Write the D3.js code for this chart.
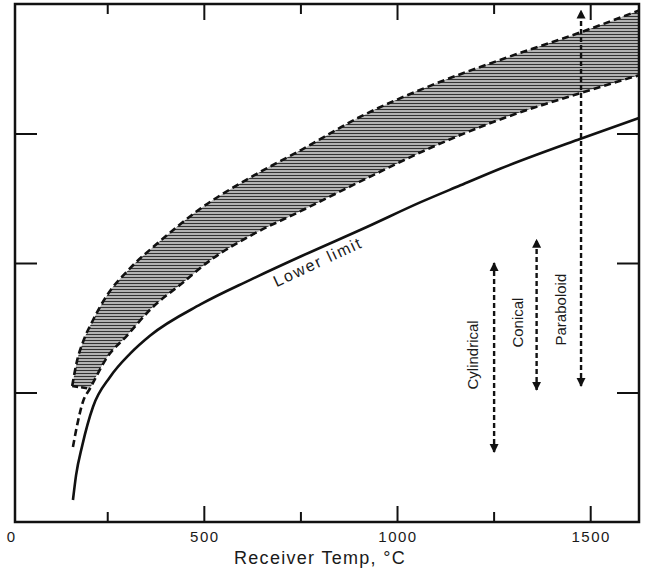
<!DOCTYPE html>
<html>
<head>
<meta charset="utf-8">
<script src="https://cdn.jsdelivr.net/npm/d3@7"></script>
<style>
  body { margin: 0; background: #fff; }
  text { font-family: "Liberation Sans", Arial, sans-serif; fill: #1a1a1a; }
</style>
</head>
<body>
<div id="container"></div>
<script>
/* CONSTANTS AND GLOBALS */
const width = 647,
  height = 570,
  margin = {top: 4, bottom: 48, left: 15, right: 8};

// upper edge of the hatched band (dashed)
const upperTemp = [158, 171, 186, 212, 248, 308, 378, 490, 619, 749, 904, 1086, 1267, 1482, 1625];
const upperVal  = [1.05, 1.25, 1.39, 1.56, 1.75, 1.96, 2.15, 2.42, 2.66, 2.87, 3.13, 3.37, 3.57, 3.79, 3.95];
// lower edge of the hatched band (dashed)
const lowerTemp = [160, 171, 186, 204, 248, 300, 360, 445, 515, 619, 749, 904, 1086, 1267, 1482, 1625];
const lowerVal  = [0.58, 0.75, 0.93, 1.03, 1.27, 1.44, 1.64, 1.85, 2.02, 2.21, 2.40, 2.63, 2.89, 3.11, 3.32, 3.45];
// lower limit (solid)
const limitTemp = [160, 168, 184, 212, 256, 308, 360, 490, 619, 749, 922, 1060, 1163, 1267, 1474, 1625];
const limitVal  = [0.17, 0.36, 0.59, 0.89, 1.12, 1.30, 1.44, 1.68, 1.87, 2.05, 2.28, 2.47, 2.60, 2.73, 2.96, 3.12];

// receiver type ranges (vertical arrows)
const receivers    = ["Cylindrical", "Conical", "Paraboloid"];
const receiverTemp = [1250, 1360, 1475];
const receiverLow  = [0.54, 1.02, 1.05];
const receiverHigh = [2.00, 2.18, 3.95];
const receiverLabelTemp = [1195, 1311, 1423];
const receiverLabelVal  = [1.29, 1.54, 1.64];

// x ticks
const xMajor = [0, 500, 1000, 1500];
const xMinor = [250, 750, 1250];
const yTicks = [1, 2, 3];
const xDomain = [10, 1625];
const yDomain = [0, 4];

const capVal = 1.03;

/* SCALES */
const xScale = d3.scaleLinear().domain(xDomain).range([margin.left, width - margin.right]);
const yScale = d3.scaleLinear().domain(yDomain).range([height - margin.bottom, margin.top]);

const toPts = (xs, ys) => xs.map((x, i) => ({x: x, y: ys[i]}));
const upper = toPts(upperTemp, upperVal);
const lower = toPts(lowerTemp, lowerVal);
const limit = toPts(limitTemp, limitVal);

const line = d3.line().x(d => xScale(d.x)).y(d => yScale(d.y)).curve(d3.curveMonotoneX);
const straight = d3.line().x(d => xScale(d.x)).y(d => yScale(d.y));

/* SVG */
const svg = d3.select("#container").append("svg")
  .attr("width", width)
  .attr("height", height);

const defs = svg.append("defs");
const pat = defs.append("pattern")
  .attr("id", "hatch")
  .attr("patternUnits", "userSpaceOnUse")
  .attr("width", 8).attr("height", 3);
pat.append("rect").attr("width", 8).attr("height", 3).attr("fill", "#d2d2d2");
pat.append("line")
  .attr("x1", 0).attr("x2", 8).attr("y1", 1.5).attr("y2", 1.5)
  .attr("stroke", "#333").attr("stroke-width", 1.4);

defs.append("marker")
  .attr("id", "head")
  .attr("viewBox", "0 0 10 10")
  .attr("refX", 9).attr("refY", 5)
  .attr("markerWidth", 9).attr("markerHeight", 10)
  .attr("markerUnits", "userSpaceOnUse")
  .attr("orient", "auto-start-reverse")
  .append("path")
  .attr("d", "M0,0 L10,5 L0,10 Z")
  .attr("fill", "#111");

/* HATCHED BAND */
const lowerTop = lower.filter(d => d.y >= capVal).reverse();
const bandPath = line(upper) + "L" + line(lowerTop).slice(1) + "Z";
svg.append("path")
  .attr("class", "band")
  .attr("d", bandPath)
  .attr("fill", "url(#hatch)");

// dashed edges
svg.selectAll("path.edge")
  .data([upper, lower])
  .join("path")
  .attr("class", "edge")
  .attr("d", d => line(d))
  .attr("fill", "none")
  .attr("stroke", "#111")
  .attr("stroke-width", 2.6)
  .attr("stroke-dasharray", "7,4");

// flat cap at the bottom-left of the band
svg.append("path")
  .attr("d", straight([upper[0], lowerTop[lowerTop.length - 1]]))
  .attr("fill", "none")
  .attr("stroke", "#111")
  .attr("stroke-width", 2.6)
  .attr("stroke-dasharray", "6,3");

// lower limit
svg.append("path")
  .attr("d", line(limit))
  .attr("fill", "none")
  .attr("stroke", "#111")
  .attr("stroke-width", 2.6);

svg.append("text")
  .attr("transform", `translate(${xScale(800)},${yScale(1.97)}) rotate(-25)`)
  .attr("text-anchor", "middle")
  .attr("font-size", 16)
  .attr("letter-spacing", 1.8)
  .attr("fill", "#333")
  .text("Lower limit");

/* RECEIVER ARROWS */
svg.selectAll("line.range")
  .data(receivers)
  .join("line")
  .attr("class", "range")
  .attr("x1", (d, i) => xScale(receiverTemp[i]))
  .attr("x2", (d, i) => xScale(receiverTemp[i]))
  .attr("y1", (d, i) => yScale(receiverLow[i]))
  .attr("y2", (d, i) => yScale(receiverHigh[i]))
  .attr("stroke", "#111")
  .attr("stroke-width", 2.4)
  .attr("stroke-dasharray", "5,3")
  .attr("marker-start", "url(#head)")
  .attr("marker-end", "url(#head)");

svg.selectAll("text.rlabel")
  .data(receivers)
  .join("text")
  .attr("class", "rlabel")
  .attr("transform", (d, i) => `translate(${xScale(receiverLabelTemp[i])},${yScale(receiverLabelVal[i])}) rotate(-90)`)
  .attr("text-anchor", "middle")
  .attr("dy", "0.35em")
  .attr("font-size", 15)
  .text(d => d);

/* AXES */
const plotBottom = height - margin.bottom, plotTop = margin.top;
const plotLeft = margin.left, plotRight = width - margin.right;

function inwardX(g, y, dir) {
  g.attr("transform", `translate(0,${y})`);
  g.selectAll("line.maj").data(xMajor.filter(v => v >= xDomain[0])).join("line").attr("class", "maj")
    .attr("x1", d => xScale(d)).attr("x2", d => xScale(d))
    .attr("y1", 0).attr("y2", dir * 16)
    .attr("stroke", "#111").attr("stroke-width", 2);
  g.selectAll("line.min").data(xMinor).join("line").attr("class", "min")
    .attr("x1", d => xScale(d)).attr("x2", d => xScale(d))
    .attr("y1", 0).attr("y2", dir * 10)
    .attr("stroke", "#111").attr("stroke-width", 2);
}
svg.append("g").call(inwardX, plotBottom, -1);
svg.append("g").call(inwardX, plotTop, 1);

const xAxis = d3.axisBottom(xScale).tickValues(xMajor).tickSize(0).tickPadding(9).tickFormat(d3.format("d"));
svg.append("g")
  .attr("transform", `translate(0,${plotBottom})`)
  .call(xAxis)
  .call(g => g.select(".domain").remove())
  .call(g => g.selectAll("text")
    .attr("font-size", 15)
    .attr("letter-spacing", 1.5)
    .attr("font-family", "Liberation Sans, Arial, sans-serif")
    .attr("fill", "#1a1a1a"));

const yLeft = d3.axisLeft(yScale).tickValues(yTicks).tickSizeInner(-22).tickSizeOuter(0).tickFormat("");
svg.append("g").attr("transform", `translate(${plotLeft},0)`).call(yLeft)
  .call(g => g.select(".domain").remove())
  .call(g => g.selectAll("line").attr("stroke", "#111").attr("stroke-width", 2));
const yRight = d3.axisRight(yScale).tickValues(yTicks).tickSizeInner(-22).tickSizeOuter(0).tickFormat("");
svg.append("g").attr("transform", `translate(${plotRight},0)`).call(yRight)
  .call(g => g.select(".domain").remove())
  .call(g => g.selectAll("line").attr("stroke", "#111").attr("stroke-width", 2));

// frame
svg.append("rect")
  .attr("x", plotLeft).attr("y", plotTop)
  .attr("width", plotRight - plotLeft).attr("height", plotBottom - plotTop)
  .attr("fill", "none")
  .attr("stroke", "#111")
  .attr("stroke-width", 2.5);

svg.append("text")
  .attr("x", 320)
  .attr("y", plotBottom + 42)
  .attr("text-anchor", "middle")
  .attr("font-size", 18)
  .attr("letter-spacing", 1.3)
  .text("Receiver Temp, \u00b0C");
</script>
</body>
</html>
